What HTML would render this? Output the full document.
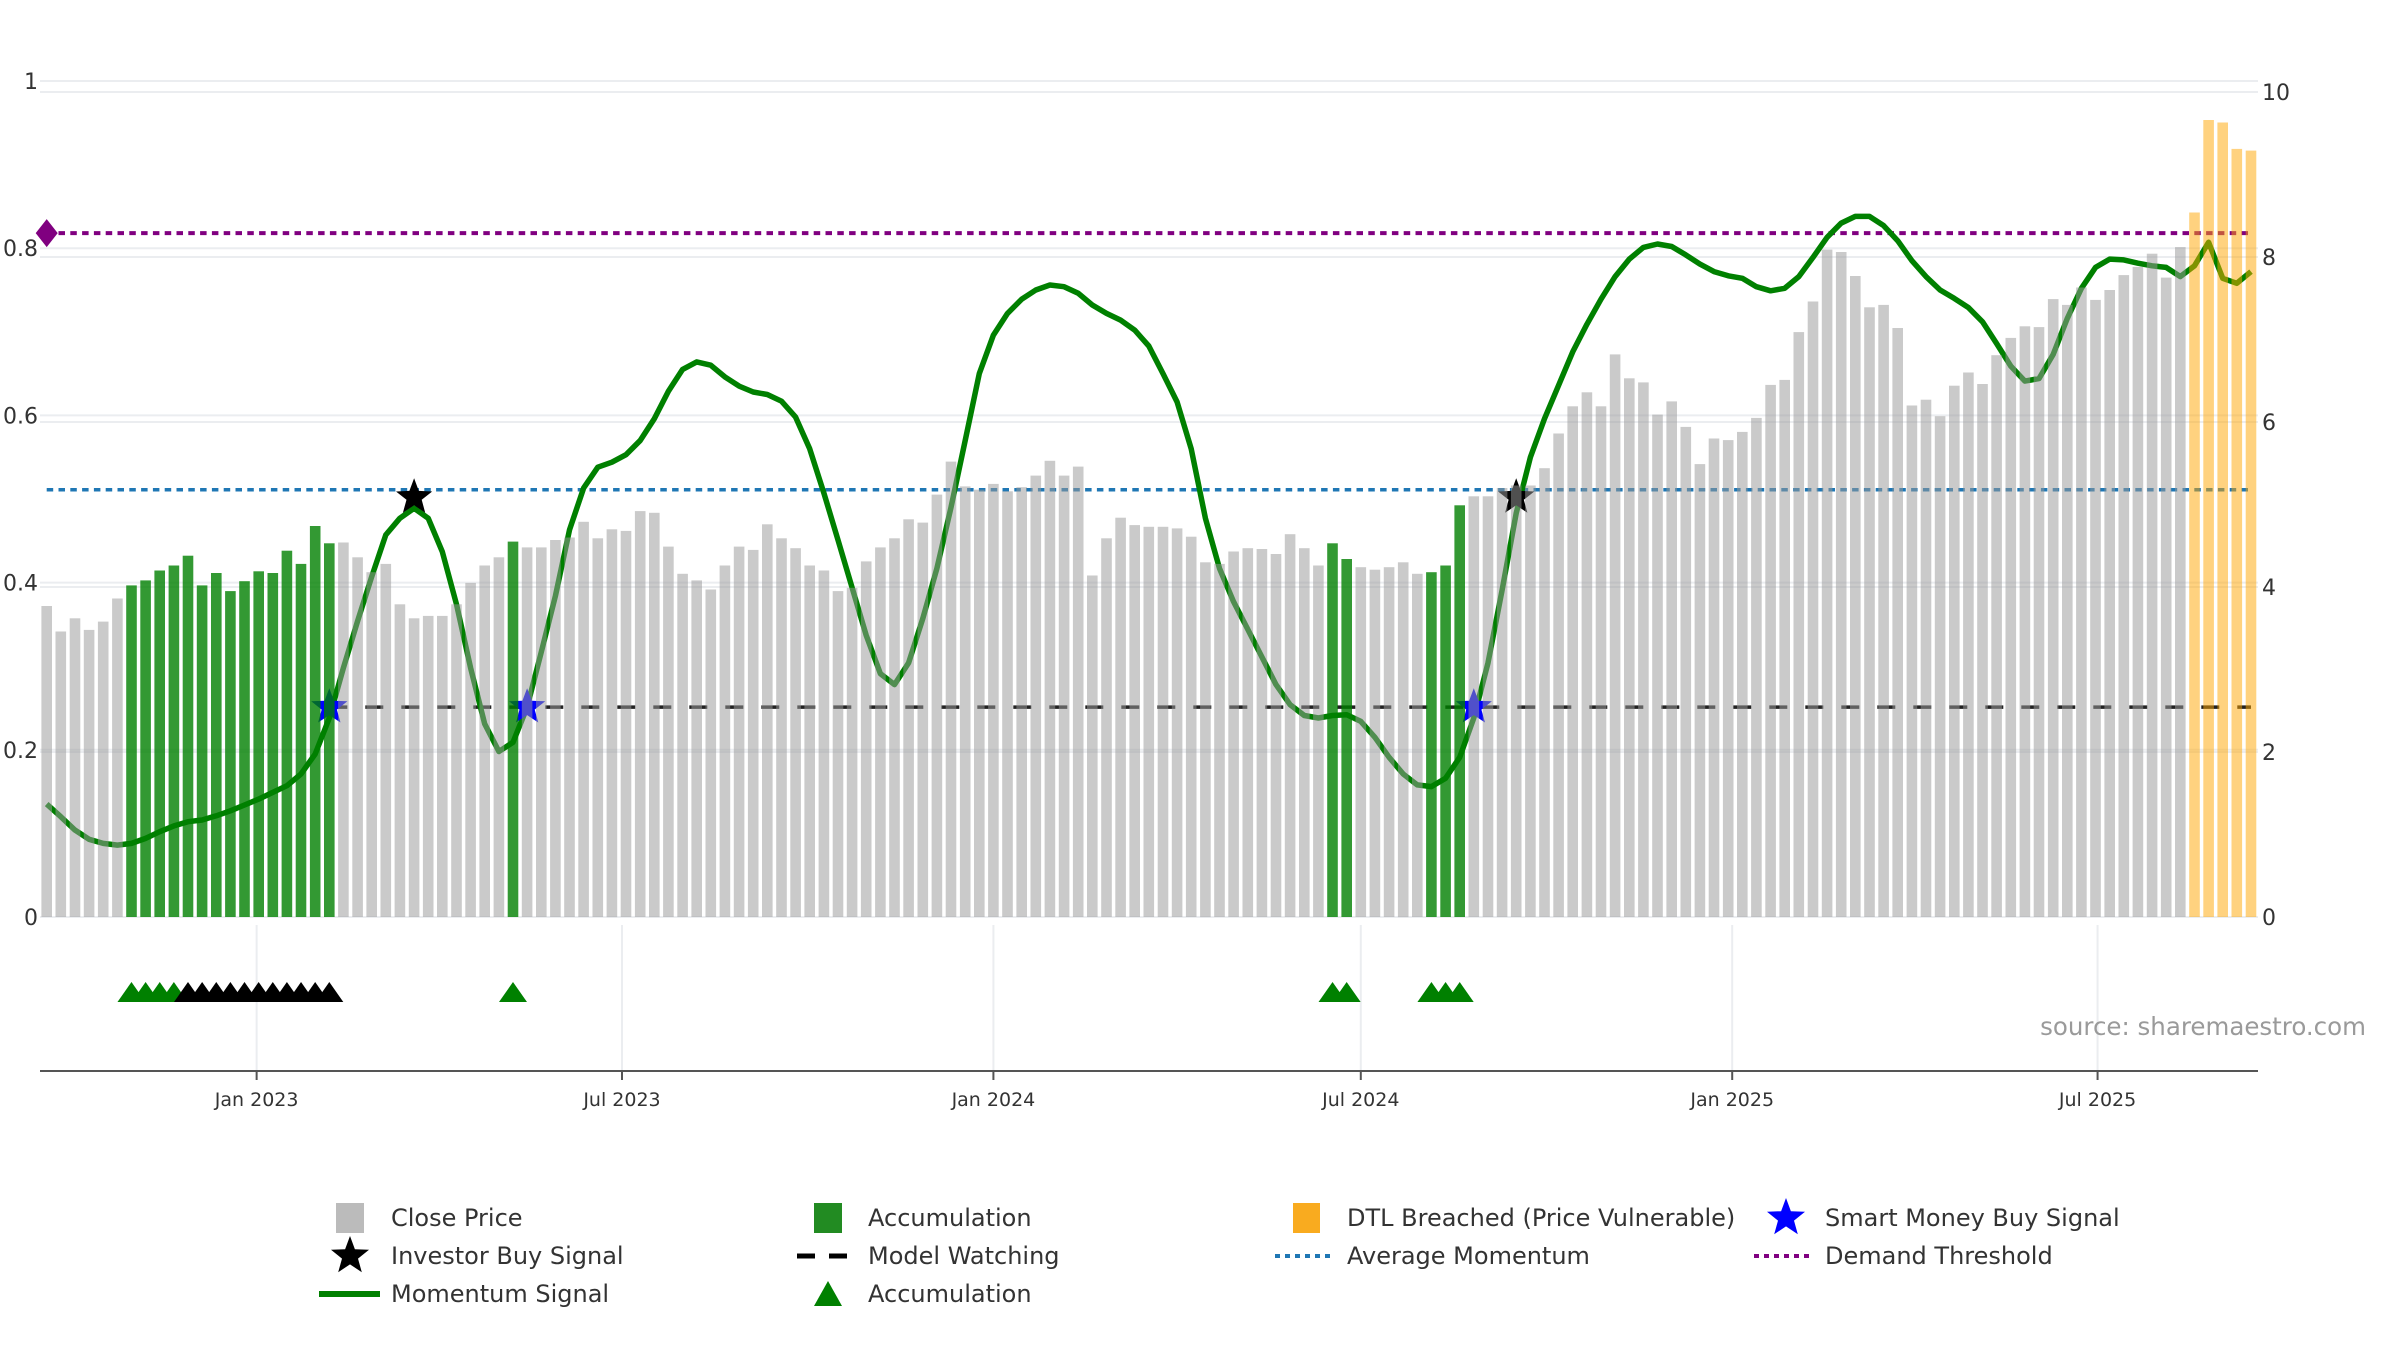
<!DOCTYPE html>
<html><head><meta charset="utf-8"><title>Momentum chart</title>
<style>
html,body{margin:0;padding:0;background:#fff;}
svg{display:block;font-family:"DejaVu Sans","Liberation Sans",sans-serif;}
</style></head>
<body>
<svg id="chart" width="2400" height="1350" viewBox="0 0 2400 1350" xmlns="http://www.w3.org/2000/svg">
  <g id="grid"></g>
  <g id="refs"></g>
  <g id="momentum"></g>
  <g id="stars"></g>
  <g id="bars"></g>
  <g id="markers"></g>
  <g id="axes"></g>
  <text x="2366" y="1035" text-anchor="end" font-size="24.5" fill="#9a9a9a">source: sharemaestro.com</text>
  <g id="legend">
    <rect x="336" y="1203" width="28" height="30" fill="#bbbbbb"/>
    <text x="391" y="1226" font-size="24" fill="#333">Close Price</text>
    <rect x="814" y="1203" width="28" height="30" fill="#228b22"/>
    <text x="868" y="1226" font-size="24" fill="#333">Accumulation</text>
    <rect x="1293" y="1203" width="27" height="30" fill="#f9ab1f"/>
    <text x="1347" y="1226" font-size="24" fill="#333">DTL Breached (Price Vulnerable)</text>
    <polygon id="lgStarBlue" fill="#0000ff"/>
    <text x="1825" y="1226" font-size="24" fill="#333">Smart Money Buy Signal</text>
    <polygon id="lgStarBlack" fill="#000"/>
    <text x="391" y="1264" font-size="24" fill="#333">Investor Buy Signal</text>
    <line x1="797" y1="1256" x2="853" y2="1256" stroke="#000" stroke-width="5" stroke-dasharray="18,14"/>
    <text x="868" y="1264" font-size="24" fill="#333">Model Watching</text>
    <line x1="1275" y1="1256" x2="1331" y2="1256" stroke="#1f77b4" stroke-width="4" stroke-dasharray="5,5"/>
    <text x="1347" y="1264" font-size="24" fill="#333">Average Momentum</text>
    <line x1="1754" y1="1256" x2="1810" y2="1256" stroke="#800080" stroke-width="4" stroke-dasharray="5,5"/>
    <text x="1825" y="1264" font-size="24" fill="#333">Demand Threshold</text>
    <line x1="319" y1="1294" x2="380" y2="1294" stroke="#008000" stroke-width="6"/>
    <text x="391" y="1302" font-size="24" fill="#333">Momentum Signal</text>
    <polygon points="814,1306 842,1306 828,1281" fill="#008000"/>
    <text x="868" y="1302" font-size="24" fill="#333">Accumulation</text>
  </g>
</svg>
<script>
// ---- data ----
const startDate = "2022-09-19";
const closePrice = [3.77,3.46,3.62,3.48,3.58,3.86,
4.02,4.08,4.20,4.26,4.38,4.02,4.17,3.95,4.07,4.19,4.17,4.44,4.28,4.74,4.53,
4.54,4.36,4.18,4.28,3.79,3.62,3.65,3.65,3.79,4.05,4.26,4.36,4.55,4.48,4.48,4.57,4.60,4.79,4.59,4.70,
4.68,4.92,4.90,4.49,4.16,4.08,3.97,4.26,4.49,4.45,4.76,4.59,4.47,4.26,4.20,3.95,3.99,4.31,4.48,4.59,4.82,4.78,5.12,5.52,5.22,5.18,5.25,5.16,5.21,5.35,5.53,5.35,5.46,4.14,4.59,4.84,4.75,4.73,4.73,
4.71,4.61,4.30,4.28,4.43,4.47,4.46,4.40,4.64,4.47,4.26,4.53,4.34,4.24,4.21,4.24,4.30,4.16,4.18,4.26,4.99,5.10,5.10,5.20,5.23,5.23,5.44,5.86,6.19,6.36,6.19,6.82,6.53,6.48,6.09,6.25,5.94,5.49,5.80,
5.78,5.88,6.05,6.45,6.51,7.09,7.46,8.09,8.06,7.77,7.39,7.42,7.14,6.20,6.27,6.07,6.44,6.60,6.46,6.81,7.02,7.16,7.15,7.49,7.42,7.63,7.48,7.60,7.78,7.88,8.04,7.75,8.12,8.54,9.66,9.63,9.31,9.29];
const momentum = [0.135,0.12,0.104,0.093,0.088,0.086,0.088,0.094,0.102,0.109,0.114,0.116,0.121,0.127,0.134,0.141,0.149,0.157,0.171,0.195,0.238,0.298,0.354,0.407,0.457,0.477,0.489,0.477,0.437,0.374,0.298,0.231,0.198,0.209,0.251,0.317,0.384,0.463,0.513,0.538,0.544,
0.553,0.570,0.596,0.629,0.655,0.664,0.660,0.646,0.635,0.628,0.625,0.617,0.598,0.560,0.507,0.451,0.394,0.337,0.291,0.278,0.304,0.357,0.417,0.490,0.570,0.650,0.696,0.722,0.739,0.750,0.756,0.754,0.746,0.732,0.722,0.714,0.702,0.683,0.650,
0.616,0.560,0.477,0.417,0.377,0.344,0.311,0.278,0.254,0.241,0.238,0.241,0.242,0.234,0.215,0.191,0.171,0.158,0.156,0.166,0.191,0.238,0.304,0.391,0.483,0.550,0.596,0.636,0.676,0.709,0.739,0.766,0.787,0.801,0.805,0.802,0.792,0.781,0.772,
0.767,0.764,0.754,0.749,0.752,0.766,0.789,0.813,0.830,0.838,0.838,0.827,0.809,0.785,0.766,0.750,0.740,0.729,0.712,0.686,0.659,0.641,0.644,0.673,0.716,0.752,0.777,0.787,0.786,0.782,0.779,0.777,0.766,0.779,0.807,0.764,0.758,0.772];
const accumulationBars = [6,7,8,9,10,11,12,13,14,15,16,17,18,19,20,33,91,92,98,99,100];
const dtlBars = [152,153,154,155,156];
const investorBuy = [26,104];
const investorBuyLevel = [0.502,0.502];
const smartMoneyBuy = [20,34,101];
const modelWatchingLevel = 0.251;
const modelWatchingStart = 20;
const averageMomentum = 0.511;
const demandThreshold = 0.818;
const accumTriangles = [6,7,8,9,33,91,92,98,99,100];
const watchTriangles = [10,11,12,13,14,15,16,17,18,19,20];
const leftTicks = [0,0.2,0.4,0.6,0.8,1];
const leftTickLabels = ["0","0.2","0.4","0.6","0.8","1"];
const rightTicks = [0,2,4,6,8,10];
const dateTicks = ["2023-01-01","2023-07-01","2024-01-01","2024-07-01","2025-01-01","2025-07-01"];
const dateTickLabels = ["Jan 2023","Jul 2023","Jan 2024","Jul 2024","Jan 2025","Jul 2025"];

// ---- scales ----
const NS="http://www.w3.org/2000/svg";
const X0=46.7, STEP=14.13, PL=40, PR=2258;
function xIdx(i){return X0+STEP*i;}
function xDate(s){const d=(Date.parse(s)-Date.parse(startDate))/86400000;return X0+STEP*d/7;}
function yL(v){return 917-836*v;}
function yR(v){return 917-82.5*v;}
function mk(tag,attrs,parent){const e=document.createElementNS(NS,tag);for(const k in attrs)e.setAttribute(k,attrs[k]);parent.appendChild(e);return e;}
function starPts(cx,cy,R){const r=R*0.42;let p=[];for(let k=0;k<10;k++){const a=-Math.PI/2+k*Math.PI/5;const rr=k%2?r:R;p.push((cx+rr*Math.cos(a)).toFixed(1)+","+(cy+rr*Math.sin(a)).toFixed(1));}return p.join(" ");}

const grid=document.getElementById('grid');
leftTicks.forEach(v=>{const l=mk('line',{x1:PL,x2:PR,y1:yL(v),y2:yL(v),stroke:'#ebedf0','stroke-width':2},grid);

});
rightTicks.forEach(v=>{const l=mk('line',{x1:PL,x2:PR,y1:yR(v),y2:yR(v),stroke:'#ebedf0','stroke-width':2},grid);

});
dateTicks.forEach(d=>{const x=xDate(d);const l=mk('line',{x1:x,x2:x,y1:925,y2:1071,stroke:'#ebedf0','stroke-width':2},grid);

});

// reference lines
const refs=document.getElementById('refs');
const xEnd=xIdx(closePrice.length-1);
let l1=mk('line',{x1:xIdx(0),x2:xEnd,y1:yL(demandThreshold),y2:yL(demandThreshold),stroke:'#800080','stroke-width':4,'stroke-dasharray':'6.5,5.3'},refs);


let dm=mk('polygon',{points:`${xIdx(0)},${yL(demandThreshold)-14} ${xIdx(0)+11},${yL(demandThreshold)} ${xIdx(0)},${yL(demandThreshold)+14} ${xIdx(0)-11},${yL(demandThreshold)}`,fill:'#800080'},refs);


let l2=mk('line',{x1:xIdx(0),x2:xEnd,y1:yL(averageMomentum),y2:yL(averageMomentum),stroke:'#1f77b4','stroke-width':3.5,'stroke-dasharray':'6.5,5.3'},refs);


let l3=mk('line',{x1:xIdx(modelWatchingStart),x2:xEnd,y1:yL(modelWatchingLevel),y2:yL(modelWatchingLevel),stroke:'#222','stroke-width':3.5,'stroke-dasharray':'18,18'},refs);



// momentum
const mg=document.getElementById('momentum');
let d=momentum.map((v,i)=>(i?'L':'M')+xIdx(i).toFixed(1)+','+yL(v).toFixed(1)).join(' ');
let ml=mk('path',{d:d,fill:'none',stroke:'#008000','stroke-width':5.5,'stroke-linejoin':'round'},mg);



// stars
const sg=document.getElementById('stars');
investorBuy.forEach((i,k)=>{const s=mk('polygon',{points:starPts(xIdx(i),yL(investorBuyLevel[k]),19),fill:'#000'},sg);

});
smartMoneyBuy.forEach(i=>{const s=mk('polygon',{points:starPts(xIdx(i),yL(modelWatchingLevel),19),fill:'#0000ff'},sg);

});

// bars
const bg=document.getElementById('bars');
closePrice.forEach((v,i)=>{let fill='rgb(154,154,154)',op=0.52;
if(accumulationBars.includes(i)){fill='#008000';op=0.8;}
if(dtlBars.includes(i)){fill='#ffa500';op=0.5;}
const r=mk('rect',{x:(xIdx(i)-5.3).toFixed(1),y:yR(v).toFixed(1),width:10.6,height:(yR(0)-yR(v)).toFixed(1),fill:fill,'fill-opacity':op},bg);

});

// triangles
const tg=document.getElementById('markers');
function tri(i,color,name){const x=xIdx(i),y=1002;const t=mk('polygon',{points:`${x-14},${y} ${x+14},${y} ${x},${y-20}`,fill:color},tg);

}
accumTriangles.forEach(i=>tri(i,'#008000','accumulation-triangle'));
watchTriangles.forEach(i=>tri(i,'#000','watch-triangle'));

// axes
const ag=document.getElementById('axes');
let ax=mk('line',{x1:PL,x2:PR,y1:1071,y2:1071,stroke:'#555','stroke-width':2},ag);


dateTicks.forEach((dt,k)=>{const x=xDate(dt);
const tk=mk('line',{x1:x,x2:x,y1:1071,y2:1080,stroke:'#555','stroke-width':2},ag);


const t=mk('text',{x:x,y:1106,'text-anchor':'middle','font-size':19,fill:'#333'},ag);t.textContent=dateTickLabels[k];

});
leftTicks.forEach((v,k)=>{const t=mk('text',{x:38,y:yL(v)+8,'text-anchor':'end','font-size':22,fill:'#333'},ag);t.textContent=leftTickLabels[k];

});
rightTicks.forEach(v=>{const t=mk('text',{x:2262,y:yR(v)+8,'font-size':22,fill:'#333'},ag);t.textContent=String(v);

});

document.getElementById('lgStarBlue').setAttribute('points',starPts(1786,1218,20));
document.getElementById('lgStarBlack').setAttribute('points',starPts(350,1256,20));
</script>
</body></html>
